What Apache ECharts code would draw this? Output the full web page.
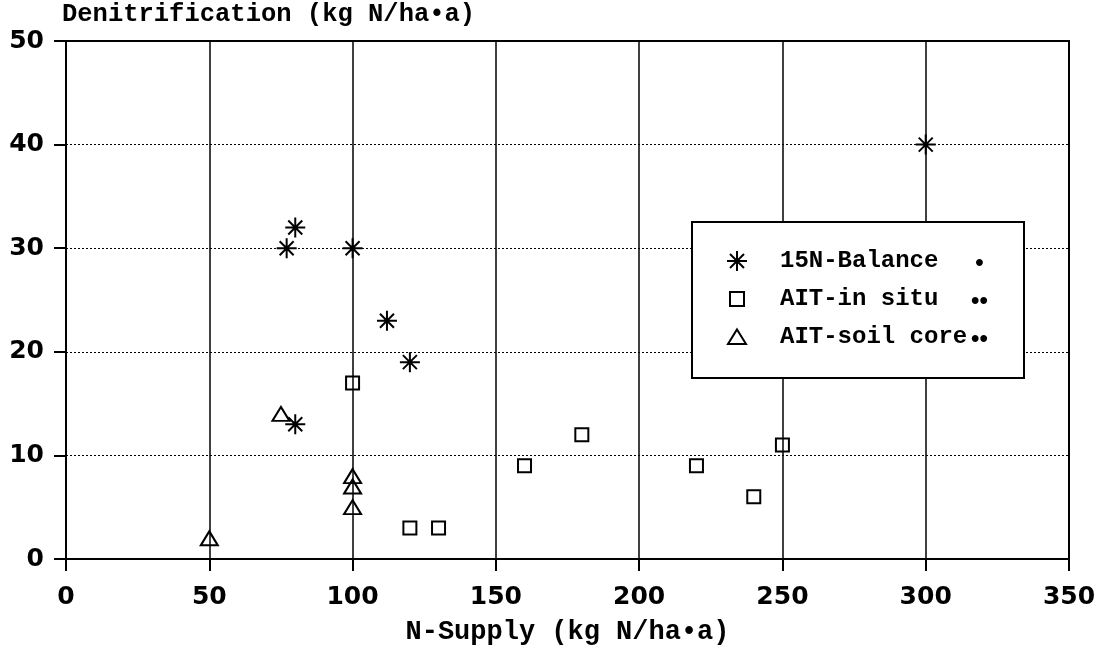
<!DOCTYPE html>
<html>
<head>
<meta charset="utf-8">
<script src="https://cdn.jsdelivr.net/npm/echarts@6/dist/echarts.min.js"></script>
<style>html,body{margin:0;padding:0;background:#fff}#c{width:1105px;height:652px}</style>
</head>
<body>
<div id="c"></div>
<script>
// ---- data ----
const seriesNames = ['15N-Balance', 'AIT-in situ', 'AIT-soil core'];
const legendMarks = ['•', '••', '••'];
const balanceX = [77, 80, 100, 112, 120, 80, 300];
const balanceY = [30, 32, 30, 23, 19, 13, 40];
const inSituX = [100, 120, 130, 160, 180, 220, 240, 250];
const inSituY = [17, 3, 3, 9, 12, 9, 6, 11];
const soilCoreX = [50, 75, 100, 100, 100];
const soilCoreY = [2, 14, 8, 7, 5];
const xTicks = [0, 50, 100, 150, 200, 250, 300, 350];
const yTicks = [0, 10, 20, 30, 40, 50];
const titleText = 'Denitrification (kg N/ha•a)';
const xName = 'N-Supply (kg N/ha•a)';

function pairs(xs, ys) { return xs.map((x, i) => [x, ys[i]]); }

const slab = '"Liberation Mono", "DejaVu Sans Mono", monospace';
const sans = '"DejaVu Sans", "Liberation Sans", sans-serif';
const asterisk = 'path://M10,0L10,20M0,10L20,10M3,3L17,17M3,17L17,3';
// legend icons padded inside a 20x20 frame with zero-length corner strokes
const legendSquare = 'path://M0,0L0,0M3,3L17,3L17,17L3,17Z M20,20L20,20';
const legendTriangle = 'path://M0,0L0,0M10,2.5L19,17L1,17Z M20,20L20,20';

const chart = echarts.init(document.getElementById('c'), null, {renderer: 'canvas'});
const markStyle = {color: 'transparent', borderColor: '#000', borderWidth: 2, opacity: 1};

chart.setOption({
  animation: false,
  backgroundColor: '#fff',
  title: {
    text: titleText, left: 62, top: 2, padding: 0,
    textStyle: {fontFamily: slab, fontWeight: 'bold', fontSize: 25.5, color: '#000'}
  },
  grid: {left: 66, right: 36, top: 41, bottom: 93, show: true, borderColor: '#000', borderWidth: 2, backgroundColor: 'transparent'},
  xAxis: {
    type: 'value', min: xTicks[0], max: xTicks[xTicks.length - 1], interval: 50,
    name: xName, nameLocation: 'middle', nameGap: 60,
    nameTextStyle: {fontFamily: slab, fontWeight: 'bold', fontSize: 27, color: '#000'},
    axisLine: {show: true, onZero: false, lineStyle: {color: '#000', width: 2}},
    axisTick: {show: true, inside: false, length: 12, lineStyle: {color: '#000', width: 2}},
    axisLabel: {margin: 26, fontFamily: sans, fontWeight: 'bold', fontSize: 25, color: '#000'},
    splitLine: {show: true, lineStyle: {color: '#000', width: 1.5, type: 'solid'}}
  },
  yAxis: {
    type: 'value', min: yTicks[0], max: yTicks[yTicks.length - 1], interval: 10,
    axisLine: {show: true, onZero: false, lineStyle: {color: '#000', width: 2}},
    axisTick: {show: true, inside: false, length: 12, lineStyle: {color: '#000', width: 2}},
    axisLabel: {margin: 22, fontFamily: sans, fontWeight: 'bold', fontSize: 25, color: '#000'},
    splitLine: {show: true, lineStyle: {color: '#000', width: 1, type: [2, 2]}}
  },
  legend: {
    orient: 'vertical', left: 692, top: 222,
    padding: [27, 36, 27, 34], itemGap: 12, itemWidth: 20, itemHeight: 20,
    backgroundColor: '#fff', borderColor: '#000', borderWidth: 2,
    data: [
      {name: seriesNames[0]},
      {name: seriesNames[1], icon: legendSquare},
      {name: seriesNames[2], icon: legendTriangle}
    ],
    formatter: function (name) {
      const i = seriesNames.indexOf(name);
      return '{s| }{n|' + name + '}{d|' + legendMarks[i] + '}';
    },
    textStyle: {
      color: '#000',
      rich: {
        s: {width: 28, fontSize: 24, fontFamily: slab, lineHeight: 20},
        n: {width: 191, fontSize: 24, fontFamily: slab, fontWeight: 'bold', color: '#000', lineHeight: 20},
        d: {width: 17, align: 'center', fontSize: 24, fontFamily: '"Liberation Sans", Arial, sans-serif', fontWeight: 'bold', color: '#000', lineHeight: 12, verticalAlign: 'top'}
      }
    }
  },
  series: [
    {name: seriesNames[0], type: 'scatter', symbol: asterisk, symbolSize: 20, itemStyle: markStyle, data: pairs(balanceX, balanceY), z: 5},
    {name: seriesNames[1], type: 'scatter', symbol: 'rect', symbolSize: 13, itemStyle: markStyle, data: pairs(inSituX, inSituY), z: 5},
    {name: seriesNames[2], type: 'scatter', symbol: 'triangle', symbolSize: [17, 14], itemStyle: markStyle, data: pairs(soilCoreX, soilCoreY), z: 5}
  ]
});
</script>
</body>
</html>
